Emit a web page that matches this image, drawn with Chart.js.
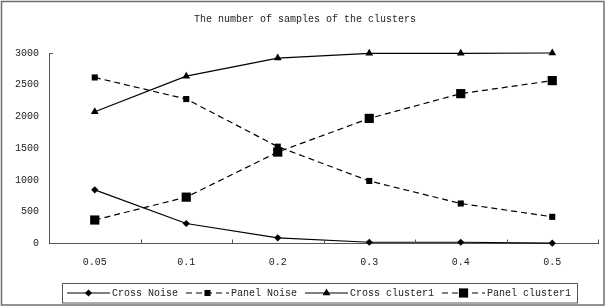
<!DOCTYPE html>
<html>
<head>
<meta charset="utf-8">
<script src="https://cdn.jsdelivr.net/npm/chart.js@4/dist/chart.umd.min.js"></script>
<style>
  html, body { margin: 0; padding: 0; background: #fff; }
  #wrap { width: 607px; height: 308px; }
</style>
</head>
<body>
<div id="wrap"><canvas id="chart" width="607" height="308"></canvas></div>
<script>
const titleText = 'The number of samples of the clusters';
const categories = ['0.05', '0.1', '0.2', '0.3', '0.4', '0.5'];
const crossNoise = [845, 315, 90, 20, 20, 5];
const panelNoise = [2615, 2275, 1525, 985, 630, 420];
const crossCluster1 = [2075, 2635, 2920, 2995, 2995, 3000];
const panelCluster1 = [370, 730, 1440, 1970, 2360, 2565];
const yTicks = { min: 0, max: 3000, step: 500 };

const FONT = "'Liberation Mono', 'DejaVu Sans Mono', monospace";
const INK = '#000';
const AXIS = '#555';

function marker(ctx, style, x, y, r) {
  ctx.save();
  ctx.fillStyle = INK;
  ctx.setLineDash([]);
  ctx.beginPath();
  if (style === 'rectRot') {
    ctx.moveTo(x, y - r); ctx.lineTo(x + r, y); ctx.lineTo(x, y + r); ctx.lineTo(x - r, y);
  } else if (style === 'triangle') {
    const h = r * 1.5;
    ctx.moveTo(x, y - r); ctx.lineTo(x + h * 0.577, y + r * 0.5); ctx.lineTo(x - h * 0.577, y + r * 0.5);
  } else {
    const s = Math.SQRT1_2 * r;
    ctx.rect(x - s, y - s, 2 * s, 2 * s);
  }
  ctx.closePath();
  ctx.fill();
  ctx.restore();
}

const decor = {
  id: 'decor',
  beforeDraw(chart) {
    const { ctx } = chart;
    ctx.save();
    ctx.fillStyle = '#fff';
    ctx.fillRect(0, 0, chart.width, chart.height);
    ctx.strokeStyle = '#6e6e6e';
    ctx.lineWidth = 1.5;
    ctx.strokeRect(1.5, 1.5, 602.5, 303.5);
    ctx.restore();
  },
  afterDraw(chart) {
    const { ctx } = chart;
    const xs = chart.scales.x;
    const ys = chart.scales.y;
    ctx.save();
    // title
    ctx.fillStyle = '#222';
    ctx.font = '10px ' + FONT;
    ctx.textAlign = 'center';
    ctx.textBaseline = 'middle';
    ctx.fillText(titleText, 305, 19);

    // inward tick marks on category boundaries
    ctx.strokeStyle = AXIS;
    ctx.lineWidth = 1;
    const n = categories.length;
    for (let i = 1; i <= n; i++) {
      const x = Math.round(xs.left + (i * (xs.right - xs.left)) / n) + 0.5;
      ctx.beginPath();
      ctx.moveTo(x, ys.bottom);
      ctx.lineTo(x, ys.bottom - 4);
      ctx.stroke();
    }
    ctx.beginPath();
    ctx.moveTo(xs.left, ys.top + 0.5);
    ctx.lineTo(xs.left + 4, ys.top + 0.5);
    ctx.stroke();

    // legend
    ctx.strokeStyle = AXIS;
    ctx.strokeRect(62.5, 283.5, 515, 19.5);
    let x = 67;
    const yMid = 293;
    chart.data.datasets.forEach((ds) => {
      ctx.strokeStyle = INK;
      ctx.lineWidth = 1.2;
      ctx.setLineDash(ds.borderDash || []);
      ctx.beginPath();
      ctx.moveTo(x, yMid);
      ctx.lineTo(x + 43, yMid);
      ctx.stroke();
      ctx.setLineDash([]);
      marker(ctx, ds.pointStyle, x + 21.5, yMid, ds.pointRadius);
      ctx.fillStyle = '#222';
      ctx.font = '10px ' + FONT;
      ctx.textAlign = 'left';
      ctx.fillText(ds.label, x + 45, yMid + 0.5);
      x += 45 + ctx.measureText(ds.label).width + 8;
    });
    ctx.restore();
  },
};

function series(label, data, dashed, pointStyle, radius) {
  return {
    label,
    data,
    borderColor: INK,
    backgroundColor: INK,
    borderWidth: 1.2,
    borderDash: dashed ? [6, 4] : [],
    pointStyle,
    pointRadius: radius,
    pointHoverRadius: radius,
    pointBorderWidth: 0,
    pointBackgroundColor: INK,
    tension: 0,
    clip: false,
  };
}

new Chart(document.getElementById('chart'), {
  type: 'line',
  data: {
    labels: categories,
    datasets: [
      series('Cross Noise', crossNoise, false, 'rectRot', 3.6),
      series('Panel Noise', panelNoise, true, 'rect', 4.3),
      series('Cross cluster1', crossCluster1, false, 'triangle', 4.5),
      series('Panel cluster1', panelCluster1, true, 'rect', 6.5),
    ],
  },
  options: {
    responsive: false,
    animation: false,
    events: [],
    layout: { padding: { left: 0, right: 9, top: 53, bottom: 0 } },
    plugins: { legend: { display: false }, title: { display: false }, tooltip: { enabled: false } },
    scales: {
      x: {
        offset: true,
        grid: { display: false, drawTicks: false },
        border: { display: true, color: AXIS, width: 1 },
        ticks: { color: '#222', padding: 13, font: { family: FONT, size: 10 }, maxRotation: 0 },
        afterFit(s) { s.height = 64.5; },
      },
      y: {
        min: yTicks.min,
        max: yTicks.max,
        grid: { display: false, drawTicks: false },
        border: { display: true, color: AXIS, width: 1 },
        ticks: {
          stepSize: yTicks.step,
          color: '#222',
          padding: 10,
          font: { family: FONT, size: 10 },
          callback: (v) => String(v),
        },
        afterFit(s) { s.width = 49; },
      },
    },
  },
  plugins: [decor],
});
</script>
</body>
</html>
